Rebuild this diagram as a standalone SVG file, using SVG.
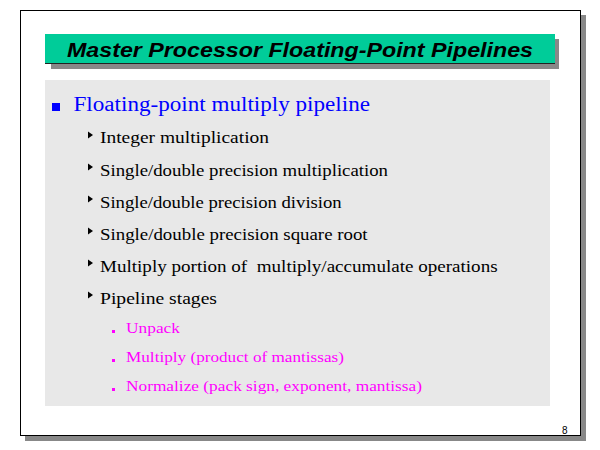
<svg xmlns="http://www.w3.org/2000/svg" width="600" height="450" viewBox="0 0 600 450">
<style>
.title{font-family:"Liberation Sans",Arial,sans-serif;font-weight:bold;font-style:italic;font-size:21px;fill:#000}
.main{font-family:"Liberation Serif","Times New Roman",serif;font-size:20px;fill:#0000ff}
.sub{font-family:"Liberation Serif","Times New Roman",serif;font-size:16px;fill:#000}
.subsub{font-family:"Liberation Serif","Times New Roman",serif;font-size:15px;fill:#ff00ff}
.pg{font-family:"Liberation Sans",Arial,sans-serif;font-size:10px;fill:#000}
.shadow{fill:#888888}
.tri{fill:#000}
.sq{fill:#ff00ff}
</style>
<rect width="600" height="450" fill="#ffffff"/>
<g id="frame">
<rect class="shadow" x="25" y="15" width="561" height="426"/>
<rect x="20.5" y="10.5" width="560" height="425" fill="#ffffff" stroke="#000" stroke-width="1"/>
</g>
<g id="title">
<rect class="shadow" x="51" y="39" width="508" height="30"/>
<rect x="45" y="34" width="510" height="30" fill="#00cc99"/>
<line x1="45" y1="63.5" x2="555" y2="63.5" stroke="#222" stroke-width="1"/>
<text class="title" x="300" y="57" text-anchor="middle" textLength="466" lengthAdjust="spacingAndGlyphs">Master Processor Floating-Point Pipelines</text>
</g>
<g id="content">
<rect x="45" y="80" width="505" height="326" fill="#e8e8e8"/>
<rect x="52" y="103" width="8" height="8" fill="#0000ff"/>
<text class="main" x="73.5" y="111" textLength="296.5" lengthAdjust="spacingAndGlyphs">Floating-point multiply pipeline</text>
<polygon class="tri" points="88,131.5 93,135 88,138.5"/>
<text class="sub" x="100" y="143.3" textLength="169" lengthAdjust="spacingAndGlyphs">Integer multiplication</text>
<polygon class="tri" points="88,163.5 93,167 88,170.5"/>
<text class="sub" x="100" y="175.5" textLength="288" lengthAdjust="spacingAndGlyphs">Single/double precision multiplication</text>
<polygon class="tri" points="88,195.5 93,199 88,202.5"/>
<text class="sub" x="100" y="207.5" textLength="241.7" lengthAdjust="spacingAndGlyphs">Single/double precision division</text>
<polygon class="tri" points="88,227.5 93,231 88,234.5"/>
<text class="sub" x="100" y="239.5" textLength="267.6" lengthAdjust="spacingAndGlyphs">Single/double precision square root</text>
<polygon class="tri" points="88,259.5 93,263 88,266.5"/>
<text class="sub" x="100" y="271.5" textLength="397.6" lengthAdjust="spacingAndGlyphs" xml:space="preserve">Multiply portion of  multiply/accumulate operations</text>
<polygon class="tri" points="88,291.5 93,295 88,298.5"/>
<text class="sub" x="100" y="304" textLength="117" lengthAdjust="spacingAndGlyphs">Pipeline stages</text>
<rect class="sq" x="112" y="330" width="3" height="3"/>
<text class="subsub" x="126" y="332.7" textLength="54" lengthAdjust="spacingAndGlyphs">Unpack</text>
<rect class="sq" x="112" y="359" width="3" height="3"/>
<text class="subsub" x="126" y="362" textLength="218" lengthAdjust="spacingAndGlyphs">Multiply (product of mantissas)</text>
<rect class="sq" x="112" y="388" width="3" height="3"/>
<text class="subsub" x="126" y="391" textLength="296" lengthAdjust="spacingAndGlyphs">Normalize (pack sign, exponent, mantissa)</text>
</g>
<text class="pg" x="562" y="434">8</text>
</svg>
